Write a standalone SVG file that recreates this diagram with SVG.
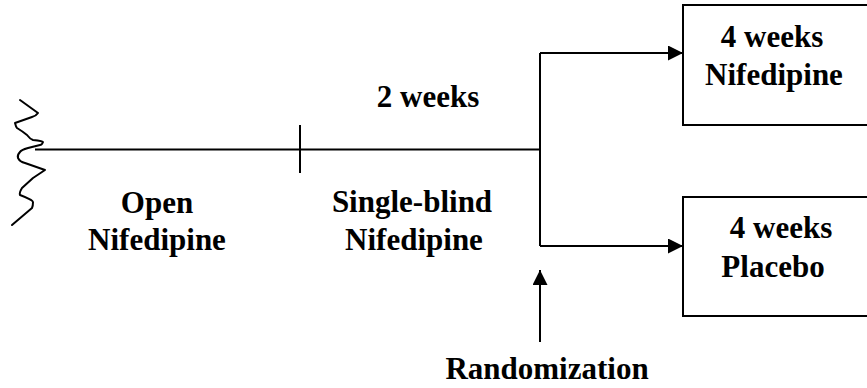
<svg xmlns="http://www.w3.org/2000/svg" width="867" height="388" viewBox="0 0 867 388">
<defs>
<style>
.t{font-family:"Liberation Serif","Times New Roman",serif;font-weight:bold;font-size:31px;fill:#000;text-anchor:middle}
.l{fill:none;stroke:#000;stroke-width:2}
.b{fill:#fff;stroke:#000;stroke-width:2}
</style>
<marker id="ah" markerWidth="16" markerHeight="16" refX="15" refY="7.5" orient="auto" markerUnits="userSpaceOnUse">
<path d="M0,0 L15,7.5 L0,15 Z" fill="#000"/>
</marker>
</defs>
<rect width="867" height="388" fill="#fff"/>
<g id="connectors">
<path class="l" stroke-linejoin="round" stroke-linecap="round" d="M20,100 L38,113 Q36,116 32,117 L15,123 Q16,127 17,128 Q22,131 27,135 Q30,139 33,140 Q43,141 43,142 Q42,145 40,145 L28,148 Q21,150 20,152 Q17,155 18,158 Q20,162 25,163 L45,170 L33,178 L22,188 Q19,193 20,195 Q33,200 33,202 Q33,206 32,208 L12,225"/>
<line class="l" x1="35" y1="149.5" x2="540" y2="149.5"/>
<line class="l" x1="300" y1="125" x2="300" y2="173"/>
<line class="l" x1="540" y1="53" x2="540" y2="246"/>
<line class="l" x1="540" y1="53" x2="683" y2="53" marker-end="url(#ah)"/>
<line class="l" x1="540" y1="246" x2="683" y2="246" marker-end="url(#ah)"/>
<line class="l" x1="540" y1="342" x2="540" y2="270" marker-end="url(#ah)"/>
</g>
<g id="open">
<text class="t" x="157" y="213">Open</text>
<text class="t" x="157" y="250">Nifedipine</text>
</g>
<g id="twoweeks">
<text class="t" x="428" y="107">2 weeks</text>
</g>
<g id="single">
<text class="t" x="412" y="212">Single-blind</text>
<text class="t" x="414" y="250">Nifedipine</text>
</g>
<g id="box1">
<rect class="b" x="683" y="5" width="190" height="120"/>
<text class="t" x="772" y="47">4 weeks</text>
<text class="t" x="774" y="85">Nifedipine</text>
</g>
<g id="box2">
<rect class="b" x="683" y="197" width="190" height="119"/>
<text class="t" x="781" y="238">4 weeks</text>
<text class="t" x="773" y="277">Placebo</text>
</g>
<g id="randomization">
<text class="t" x="547" y="379">Randomization</text>
</g>
</svg>
